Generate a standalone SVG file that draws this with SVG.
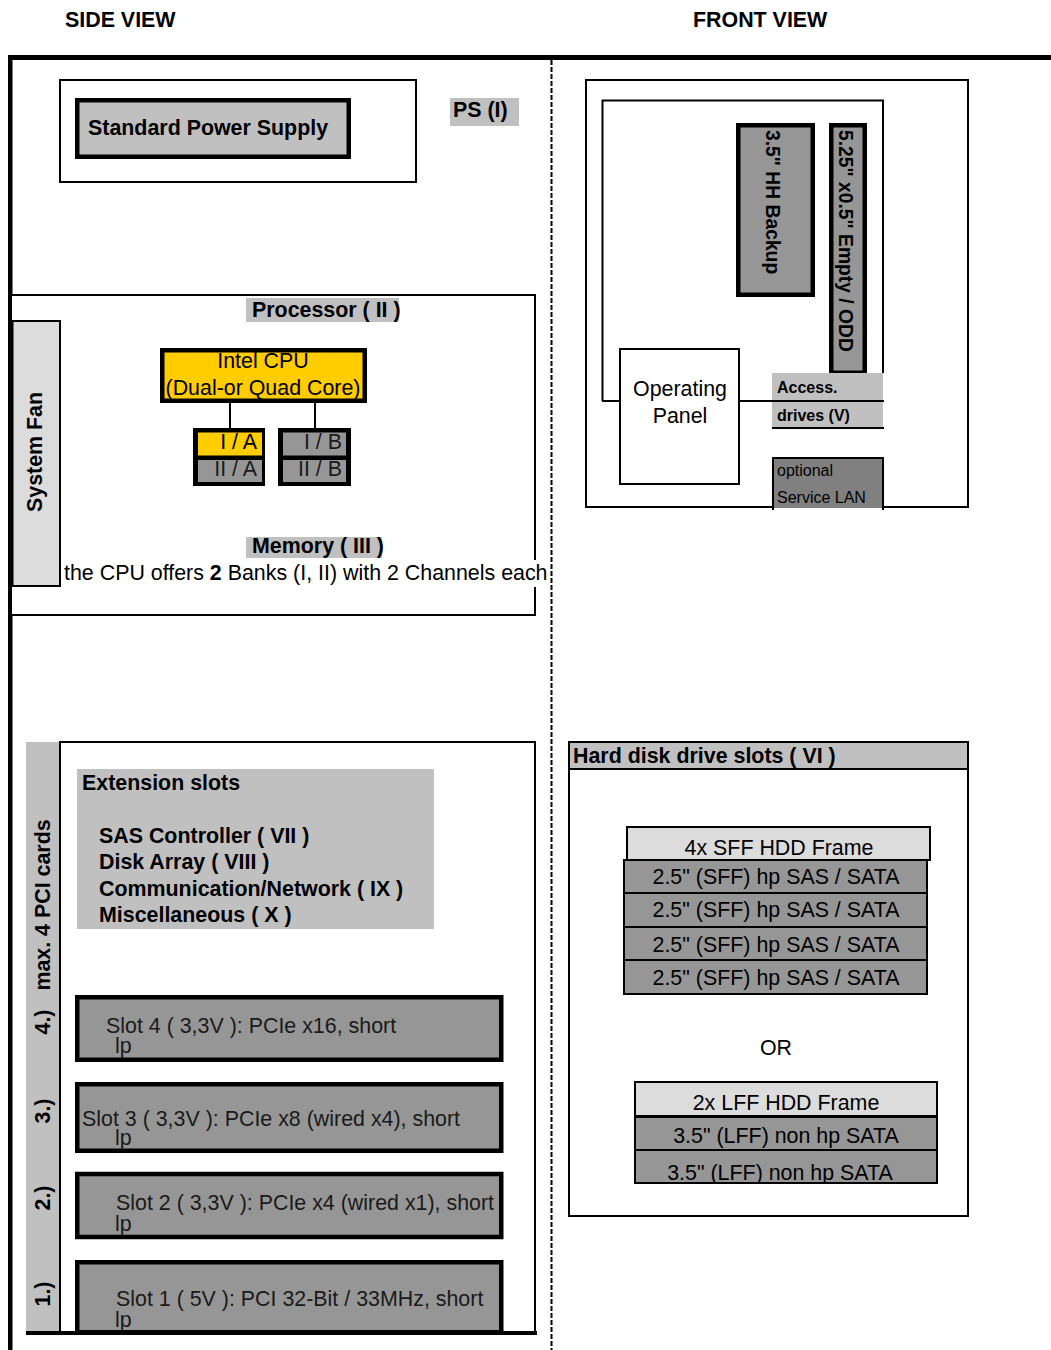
<svg xmlns="http://www.w3.org/2000/svg" width="1051" height="1350" viewBox="0 0 1051 1350">
<style>
text{font-family:"Liberation Sans",Arial,sans-serif;font-size:21.4px;fill:#000}
.b{font-weight:bold}
.s16{font-size:16px}
.s19{font-size:19.3px}
.mid{text-anchor:middle}
.end{text-anchor:end}
.thin{fill:none;stroke:#000;stroke-width:2}
.wbox{fill:#fff;stroke:#000;stroke-width:2}
.lbl{fill:#c0c0c0}
.thick{fill:#969696;stroke:#000;stroke-width:4.5}
.drive{fill:#969696;stroke:#000;stroke-width:2}
.frame{fill:#dcdcdc;stroke:#000;stroke-width:2}
.dk{fill:#1a1a1a}
</style>
<defs>
<clipPath id="lffclip"><rect x="635" y="1150" width="302" height="33"/></clipPath>
</defs>
<rect width="1051" height="1350" fill="#fff"/>

<g id="headers">
<text class="b" x="65" y="27">SIDE VIEW</text>
<text class="b" x="693" y="27">FRONT VIEW</text>
</g>

<g id="frame-lines">
<line x1="8" y1="57.5" x2="1051" y2="57.5" stroke="#000" stroke-width="5"/>
<line x1="10.25" y1="55" x2="10.25" y2="1350" stroke="#000" stroke-width="4.5"/>
</g>

<g id="power-supply">
<rect class="wbox" x="60" y="80" width="356" height="102"/>
<rect x="77.25" y="100.25" width="271.5" height="56.5" fill="#c0c0c0" stroke="#000" stroke-width="4.5"/>
<text class="b" x="88" y="135">Standard Power Supply</text>
<rect class="lbl" x="450" y="98" width="69" height="28"/>
<text class="b" x="453" y="117">PS (I)</text>
</g>

<g id="processor">
<rect class="wbox" x="11" y="295" width="524" height="320"/>
<rect class="lbl" x="246" y="298" width="153" height="24"/>
<text class="b" x="252" y="317">Processor ( II )</text>
</g>

<g id="system-fan">
<rect x="12.5" y="321" width="47.5" height="265" fill="#dcdcdc" stroke="#000" stroke-width="2"/>
<text class="b mid" transform="translate(42,452) rotate(-90)">System Fan</text>
</g>

<g id="cpu">
<rect x="162.25" y="350.25" width="202.5" height="50.5" fill="#ffcc00" stroke="#000" stroke-width="4.5"/>
<text class="mid" x="263" y="368">Intel CPU</text>
<text class="mid" x="263" y="395">(Dual-or Quad Core)</text>
</g>

<g id="connectors">
<line class="thin" x1="230" y1="403" x2="230" y2="428"/>
<line class="thin" x1="315" y1="403" x2="315" y2="428"/>
</g>

<g id="memory-a">
<rect x="193" y="428" width="72" height="58" fill="#000"/>
<rect x="198" y="432.5" width="64" height="23" fill="#ffcc00"/>
<rect x="198" y="460" width="64" height="22" fill="#969696"/>
<text class="end" x="257" y="449">I / A</text>
<text class="end dk" x="257" y="476">II / A</text>
</g>

<g id="memory-b">
<rect x="278" y="428" width="73" height="58" fill="#000"/>
<rect x="283" y="432.5" width="63" height="23" fill="#969696"/>
<rect x="283" y="460" width="63" height="22" fill="#969696"/>
<text class="end dk" x="342" y="449">I / B</text>
<text class="end dk" x="342" y="476">II / B</text>
</g>

<g id="memory-label">
<rect class="lbl" x="246" y="537" width="136" height="21"/>
<text class="b" x="252" y="553">Memory ( III )</text>
<rect x="61" y="560" width="489" height="27" fill="#fff"/>
<text x="64" y="580">the CPU offers <tspan class="b">2</tspan> Banks (I, II) with 2 Channels each</text>
</g>

<g id="divider">
<line x1="551.5" y1="60" x2="551.5" y2="1350" stroke="#000" stroke-width="2" stroke-dasharray="5 2"/>
</g>

<g id="front-view">
<rect class="wbox" x="586" y="80" width="382" height="427"/>
<path class="thin" d="M602.5,401 V100.5 H883 V373"/>
</g>

<g id="hh-backup">
<rect class="thick" x="738.25" y="125.25" width="74.5" height="169.5"/>
<text class="b s19" transform="translate(766,130) rotate(90)">3.5" HH Backup</text>
</g>

<g id="odd">
<rect class="thick" x="831.25" y="125.25" width="33.5" height="247.5"/>
<text class="b s19" transform="translate(839,130) rotate(90)">5.25" x0.5" Empty / ODD</text>
</g>

<g id="access-drives">
<rect class="lbl" x="772" y="373" width="111" height="55"/>
<line class="thin" x1="602" y1="401" x2="620" y2="401"/>
<line class="thin" x1="739" y1="401" x2="884" y2="401"/>
<line class="thin" x1="772" y1="428" x2="884" y2="428"/>
<text class="b s16" x="777" y="393">Access.</text>
<text class="b s16" x="777" y="421">drives (V)</text>
</g>

<g id="operating-panel">
<rect class="wbox" x="620" y="349" width="119" height="135"/>
<text class="mid" x="680" y="396">Operating</text>
<text class="mid" x="680" y="423">Panel</text>
</g>

<g id="service-lan">
<rect x="773" y="458" width="110" height="50" fill="#808080"/>
<path class="thin" d="M773,510 V458 H883 V510"/>
<text class="s16" x="777" y="476">optional</text>
<text class="s16" x="777" y="503">Service LAN</text>
</g>

<g id="hdd-slots">
<rect class="wbox" x="569" y="742" width="399" height="474"/>
<rect class="lbl" x="569" y="742" width="399" height="27" stroke="#000" stroke-width="2"/>
<text class="b" x="573" y="763">Hard disk drive slots ( VI )</text>
</g>

<g id="sff-frame">
<rect class="frame" x="627" y="827" width="303" height="33" stroke-width="1.5"/>
<text class="mid" x="779" y="855">4x SFF HDD Frame</text>
<rect class="drive" x="624" y="860" width="303" height="33"/>
<rect class="drive" x="624" y="893" width="303" height="34"/>
<rect class="drive" x="624" y="927" width="303" height="33"/>
<rect class="drive" x="624" y="960" width="303" height="34"/>
<text class="mid" x="776" y="884">2.5" (SFF) hp SAS / SATA</text>
<text class="mid" x="776" y="917">2.5" (SFF) hp SAS / SATA</text>
<text class="mid" x="776" y="952">2.5" (SFF) hp SAS / SATA</text>
<text class="mid" x="776" y="985">2.5" (SFF) hp SAS / SATA</text>
</g>

<g id="or-label">
<text class="mid" x="776" y="1055">OR</text>
</g>

<g id="lff-frame">
<rect class="frame" x="635" y="1082" width="302" height="34"/>
<text class="mid" x="786" y="1110">2x LFF HDD Frame</text>
<rect class="drive" x="635" y="1117" width="302" height="33"/>
<rect class="drive" x="635" y="1150" width="302" height="33"/>
<text class="mid" x="786" y="1143">3.5" (LFF) non hp SATA</text>
<text class="mid" x="780" y="1180" clip-path="url(#lffclip)">3.5" (LFF) non hp SATA</text>
</g>

<g id="pci-column">
<rect class="lbl" x="26" y="742" width="34" height="591"/>
<text class="b mid" transform="translate(50,905) rotate(-90)">max. 4 PCI cards</text>
<text class="b mid" transform="translate(50,1022) rotate(-90)">4.)</text>
<text class="b mid" transform="translate(50,1111) rotate(-90)">3.)</text>
<text class="b mid" transform="translate(50,1198) rotate(-90)">2.)</text>
<text class="b mid" transform="translate(50,1294) rotate(-90)">1.)</text>
</g>

<g id="extension-area">
<path class="thin" d="M60,1333 V742 H535 V1333"/>
<rect class="lbl" x="77" y="769" width="357" height="160"/>
<text class="b" x="82" y="790">Extension slots</text>
<text class="b" x="99" y="843">SAS Controller ( VII )</text>
<text class="b" x="99" y="869">Disk Array ( VIII )</text>
<text class="b" x="99" y="896">Communication/Network ( IX )</text>
<text class="b" x="99" y="922">Miscellaneous ( X )</text>
</g>

<g id="slot-4">
<rect class="thick" x="77.25" y="997.25" width="424" height="62.5"/>
<text class="dk" x="106" y="1033">Slot 4 ( 3,3V ): PCIe x16, short</text>
<text class="dk" x="115" y="1053">lp</text>
</g>

<g id="slot-3">
<rect class="thick" x="77.25" y="1084.25" width="424" height="66.5"/>
<text class="dk" x="82" y="1126">Slot 3 ( 3,3V ): PCIe x8 (wired x4), short</text>
<text class="dk" x="115" y="1145">lp</text>
</g>

<g id="slot-2">
<rect class="thick" x="77.25" y="1174" width="424" height="63"/>
<text class="dk" x="116" y="1210">Slot 2 ( 3,3V ): PCIe x4 (wired x1), short</text>
<text class="dk" x="115" y="1231">lp</text>
</g>

<g id="slot-1">
<rect class="thick" x="77.25" y="1262.25" width="424" height="70"/>
<text class="dk" x="116" y="1306">Slot 1 ( 5V ): PCI 32-Bit / 33MHz, short</text>
<text class="dk" x="115" y="1327">lp</text>
</g>

<g id="bottom-line">
<line x1="26" y1="1333" x2="537" y2="1333" stroke="#000" stroke-width="4"/>
</g>
</svg>
